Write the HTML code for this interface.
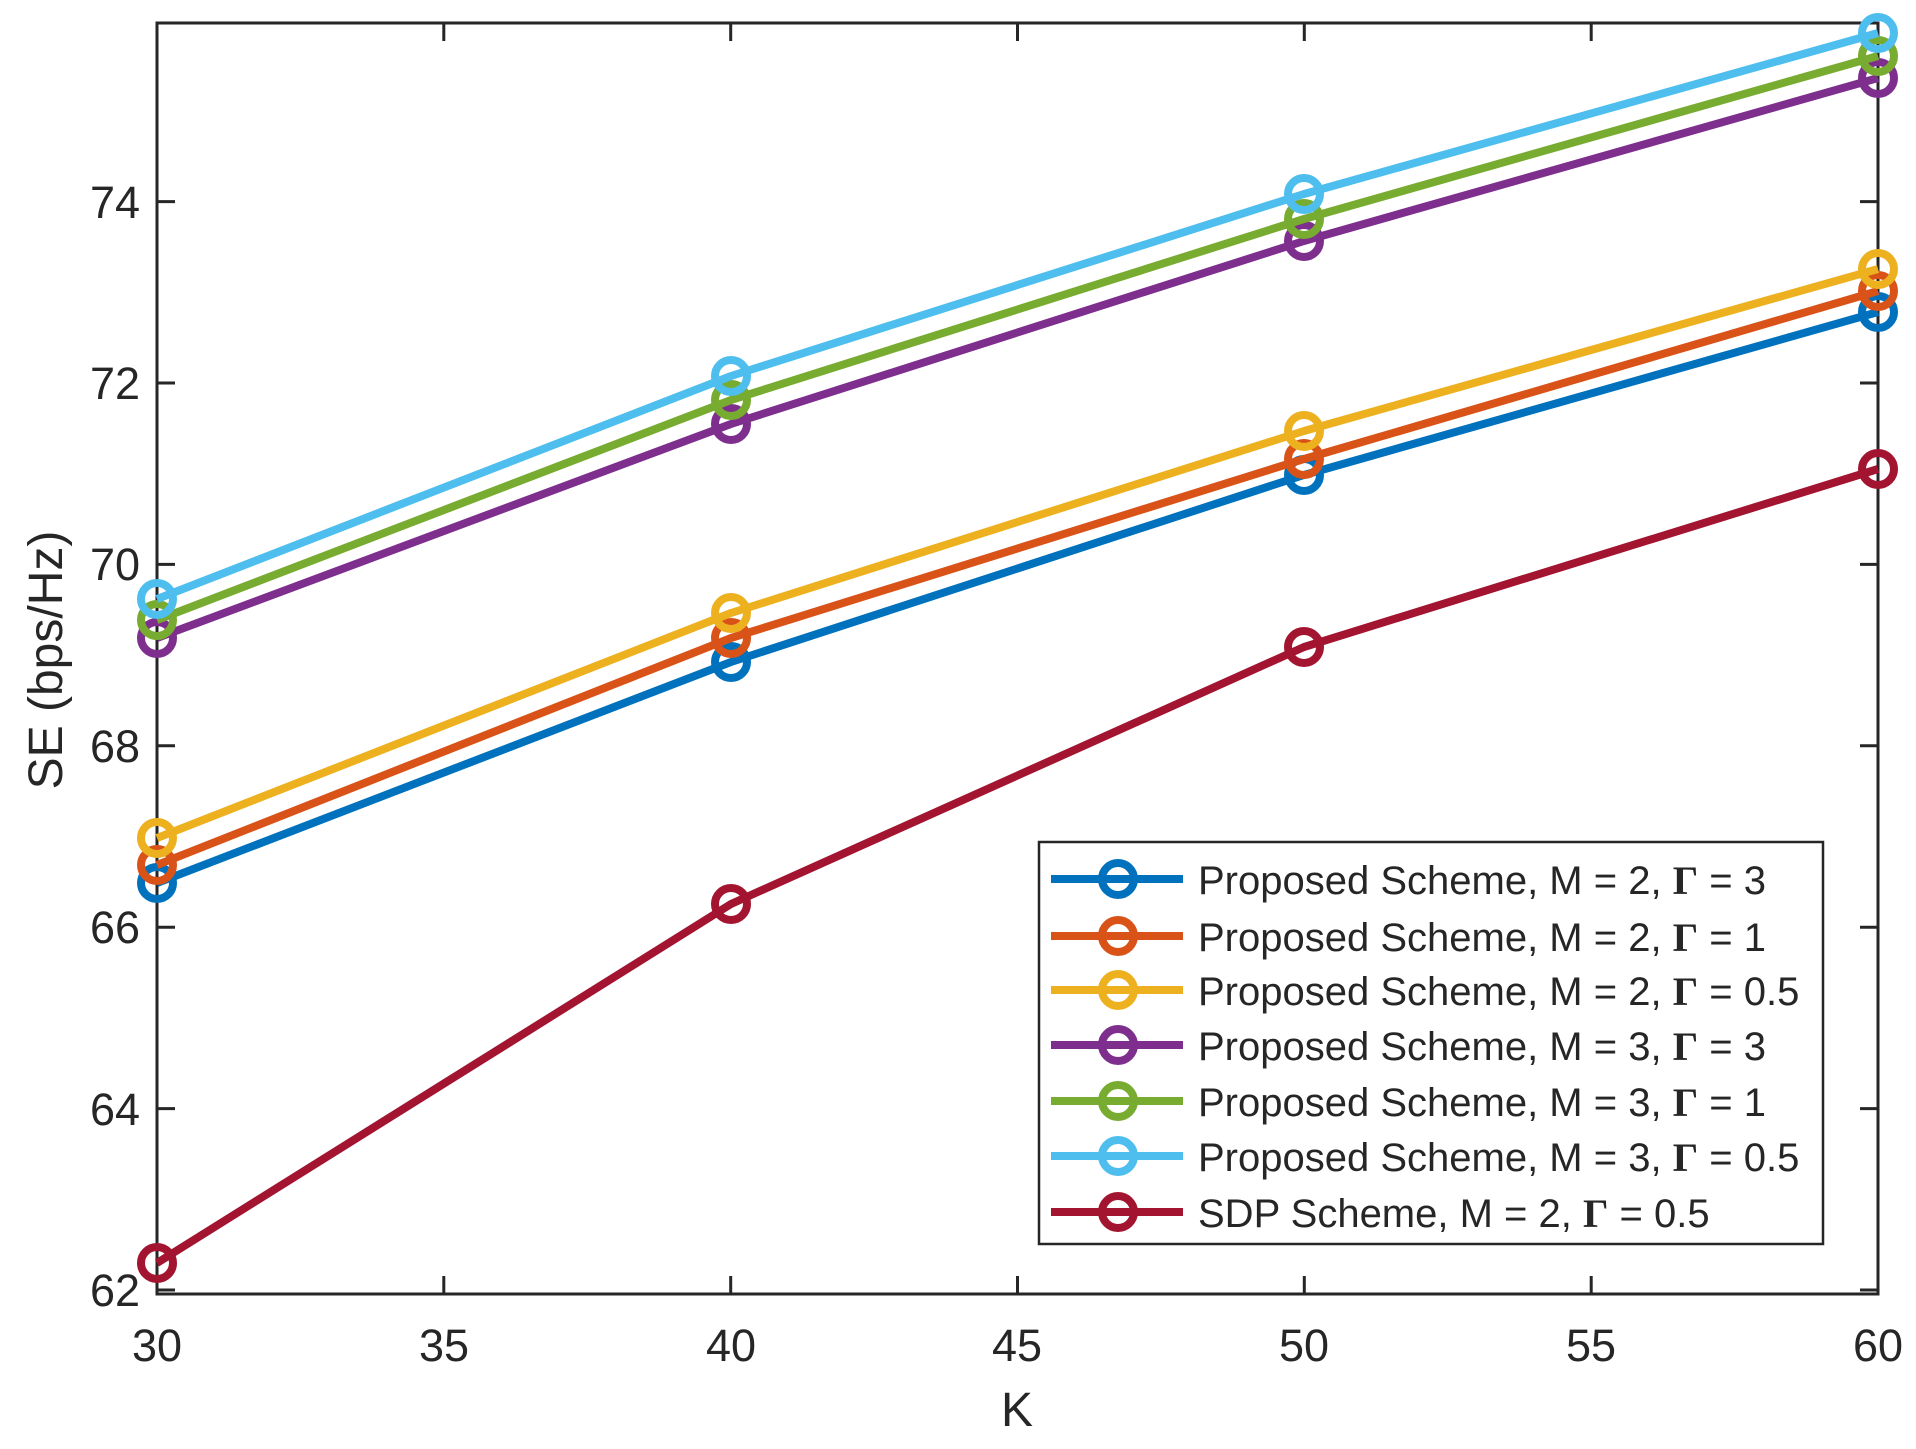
<!DOCTYPE html><html><head><style>body{margin:0;background:#fff}svg{display:block}text{font-family:"Liberation Sans",sans-serif;fill:#262626}.g{font-family:"Liberation Serif",serif;font-weight:bold}</style></head><body>
<svg width="1916" height="1449" viewBox="0 0 1916 1449">
<rect width="1916" height="1449" fill="#fff"/>
<g stroke="#262626" stroke-width="3" fill="none">
<rect x="157" y="23" width="1721" height="1271"/>
<path d="M157,1290h18M1878,1290h-18M157,1108.6h18M1878,1108.6h-18M157,927.2h18M1878,927.2h-18M157,745.8h18M1878,745.8h-18M157,564.4h18M1878,564.4h-18M157,383h18M1878,383h-18M157,201.6h18M1878,201.6h-18"/>
<path d="M157,1294v-18M157,23v18M443.8,1294v-18M443.8,23v18M730.7,1294v-18M730.7,23v18M1017.5,1294v-18M1017.5,23v18M1304.3,1294v-18M1304.3,23v18M1591.2,1294v-18M1591.2,23v18M1878,1294v-18M1878,23v18"/>
</g>
<g font-size="45" text-anchor="end">
<text x="140" y="1306">62</text><text x="140" y="1125">64</text><text x="140" y="943">66</text><text x="140" y="762">68</text><text x="140" y="580">70</text><text x="140" y="399">72</text><text x="140" y="218">74</text>
</g>
<g font-size="45" text-anchor="middle">
<text x="157" y="1361">30</text><text x="444" y="1361">35</text><text x="731" y="1361">40</text><text x="1017" y="1361">45</text><text x="1304" y="1361">50</text><text x="1591" y="1361">55</text><text x="1878" y="1361">60</text>
<text x="1017" y="1426" font-size="48">K</text>
<text transform="translate(62,660) rotate(-90)" font-size="48">SE (bps/Hz)</text>
</g>
<g fill="none" stroke-width="8" stroke-linejoin="round">
<g stroke="#0072BD"><polyline points="157,883 731,662 1304,475 1878,312"/><circle cx="157" cy="883" r="16"/><circle cx="731" cy="662" r="16"/><circle cx="1304" cy="475" r="16"/><circle cx="1878" cy="312" r="16"/></g>
<g stroke="#D95319"><polyline points="157,865 731,638 1304,459 1878,291"/><circle cx="157" cy="865" r="16"/><circle cx="731" cy="638" r="16"/><circle cx="1304" cy="459" r="16"/><circle cx="1878" cy="291" r="16"/></g>
<g stroke="#EDB120"><polyline points="157,838 731,613 1304,431 1878,269"/><circle cx="157" cy="838" r="16"/><circle cx="731" cy="613" r="16"/><circle cx="1304" cy="431" r="16"/><circle cx="1878" cy="269" r="16"/></g>
<g stroke="#7E2F8E"><polyline points="157,638 731,424 1304,241 1878,78"/><circle cx="157" cy="638" r="16"/><circle cx="731" cy="424" r="16"/><circle cx="1304" cy="241" r="16"/><circle cx="1878" cy="78" r="16"/></g>
<g stroke="#77AC30"><polyline points="157,620 731,400 1304,219 1878,56"/><circle cx="157" cy="620" r="16"/><circle cx="731" cy="400" r="16"/><circle cx="1304" cy="219" r="16"/><circle cx="1878" cy="56" r="16"/></g>
<g stroke="#4DBEEE"><polyline points="157,599 731,376 1304,194 1878,33"/><circle cx="157" cy="599" r="16"/><circle cx="731" cy="376" r="16"/><circle cx="1304" cy="194" r="16"/><circle cx="1878" cy="33" r="16"/></g>
<g stroke="#A2142F"><polyline points="157,1263 731,904 1304,647 1878,469"/><circle cx="157" cy="1263" r="16"/><circle cx="731" cy="904" r="16"/><circle cx="1304" cy="647" r="16"/><circle cx="1878" cy="469" r="16"/></g>
</g>
<rect x="1039" y="842" width="784" height="402" fill="#fff" stroke="#262626" stroke-width="2.5"/>
<g fill="none" stroke-width="8">
<g stroke="#0072BD"><path d="M1051,879h132"/><circle cx="1118" cy="879" r="16"/></g>
<g stroke="#D95319"><path d="M1051,936h132"/><circle cx="1118" cy="936" r="16"/></g>
<g stroke="#EDB120"><path d="M1051,990h132"/><circle cx="1118" cy="990" r="16"/></g>
<g stroke="#7E2F8E"><path d="M1051,1045h132"/><circle cx="1118" cy="1045" r="16"/></g>
<g stroke="#77AC30"><path d="M1051,1101h132"/><circle cx="1118" cy="1101" r="16"/></g>
<g stroke="#4DBEEE"><path d="M1051,1156h132"/><circle cx="1118" cy="1156" r="16"/></g>
<g stroke="#A2142F"><path d="M1051,1212h132"/><circle cx="1118" cy="1212" r="16"/></g>
</g>
<g font-size="40">
<text x="1198" y="894">Proposed Scheme, M = 2, <tspan class="g">Γ</tspan> = 3</text>
<text x="1198" y="951">Proposed Scheme, M = 2, <tspan class="g">Γ</tspan> = 1</text>
<text x="1198" y="1005">Proposed Scheme, M = 2, <tspan class="g">Γ</tspan> = 0.5</text>
<text x="1198" y="1060">Proposed Scheme, M = 3, <tspan class="g">Γ</tspan> = 3</text>
<text x="1198" y="1116">Proposed Scheme, M = 3, <tspan class="g">Γ</tspan> = 1</text>
<text x="1198" y="1171">Proposed Scheme, M = 3, <tspan class="g">Γ</tspan> = 0.5</text>
<text x="1198" y="1227">SDP Scheme, M = 2, <tspan class="g">Γ</tspan> = 0.5</text>
</g>
</svg></body></html>
